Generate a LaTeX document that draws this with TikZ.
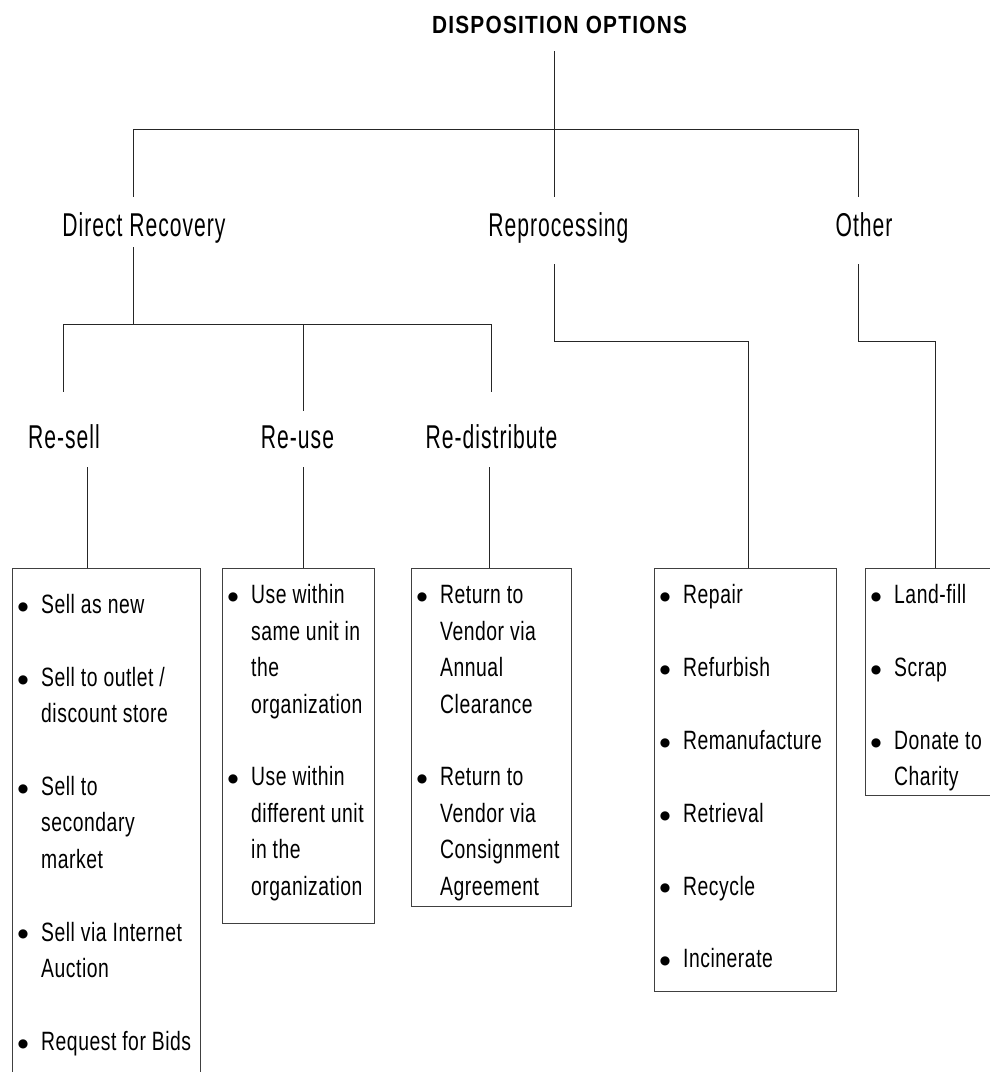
\documentclass[tikz,border=0pt]{standalone}
\usepackage{fontspec}
\setmainfont{Liberation Sans}
\newfontfamily\titlefont[FakeStretch=0.84,LetterSpace=5]{Liberation Sans}
\newfontfamily\labelfont[FakeStretch=0.64,LetterSpace=3]{Liberation Sans}
\newfontfamily\itemfont[FakeStretch=0.73,LetterSpace=2]{Liberation Sans}
\newfontfamily\dotfont{DejaVu Sans}
% bullet and continuation indents for the item lists
\newcommand\bp{\makebox[28pt][l]{\makebox[20pt]{\dotfont\fontsize{12}{12}\selectfont\raisebox{3.2pt}{●}}}}
\newcommand\bc{\hspace*{28pt}}
\begin{document}
\begin{tikzpicture}[x=1pt,y=-1pt,
  conn/.style={draw=black!85,line width=1pt},
  boxnode/.style={draw=black!75,line width=1pt,rectangle,inner sep=0,outer sep=0,anchor=north west},
  titletext/.style={anchor=base,inner sep=0,font=\titlefont\bfseries\fontsize{24.8}{28}\selectfont},
  branch/.style={anchor=base,inner sep=0,font=\labelfont\fontsize{33}{40}\selectfont},
  itemlist/.style={anchor=base west,inner sep=0,font=\itemfont\fontsize{26.5}{36.4}\selectfont}]
\useasboundingbox (0,0) rectangle (990,1072);
\clip (0,0) rectangle (990,1072);

% headings
\node[titletext] (root) at (559.5,33.3) {DISPOSITION OPTIONS};
\node[branch] (direct) at (144,236) {Direct Recovery};
\node[branch] (reproc) at (558.5,236) {Reprocessing};
\node[branch] (other) at (864,236) {Other};
\node[branch] (resell) at (64,448.3) {Re-sell};
\node[branch] (reuse) at (297.5,448.3) {Re-use};
\node[branch] (redist) at (491.5,448.3) {Re-distribute};

% boxes
\node[boxnode,minimum width=188,minimum height=540] (sellbox) at (12,568) {};
\node[boxnode,minimum width=152,minimum height=355] (usebox) at (222,568) {};
\node[boxnode,minimum width=160,minimum height=338] (distbox) at (411,568) {};
\node[boxnode,minimum width=182,minimum height=423] (procbox) at (654,568) {};
\node[boxnode,minimum width=140,minimum height=227] (otherbox) at (865,568) {};

% item lists
\node[itemlist] (sellitems) at (13,613.5) {\begin{tabular}[t]{@{}l@{}}
\bp Sell as new\\
\\
\bp Sell to outlet /\\
\bc discount store\\
\\
\bp Sell to\\
\bc secondary\\
\bc market\\
\\
\bp Sell via Internet\\
\bc Auction\\
\\
\bp Request for Bids
\end{tabular}};
\node[itemlist] (useitems) at (223,603.8) {\begin{tabular}[t]{@{}l@{}}
\bp Use within\\
\bc same unit in\\
\bc the\\
\bc organization\\
\\
\bp Use within\\
\bc different unit\\
\bc in the\\
\bc organization
\end{tabular}};
\node[itemlist] (distitems) at (412,603.8) {\begin{tabular}[t]{@{}l@{}}
\bp Return to\\
\bc Vendor via\\
\bc Annual\\
\bc Clearance\\
\\
\bp Return to\\
\bc Vendor via\\
\bc Consignment\\
\bc Agreement
\end{tabular}};
\node[itemlist] (procitems) at (655,603.8) {\begin{tabular}[t]{@{}l@{}}
\bp Repair\\
\\
\bp Refurbish\\
\\
\bp Remanufacture\\
\\
\bp Retrieval\\
\\
\bp Recycle\\
\\
\bp Incinerate
\end{tabular}};
\node[itemlist] (otheritems) at (866,603.8) {\begin{tabular}[t]{@{}l@{}}
\bp Land-fill\\
\\
\bp Scrap\\
\\
\bp Donate to\\
\bc Charity
\end{tabular}};

% junction points of the tree
\coordinate (rootfoot) at (554,51);
\coordinate (bar1L) at (133,129);
\coordinate (bar1M) at (554,129);
\coordinate (bar1R) at (858,129);
\coordinate (directtop) at (133,197);
\coordinate (reproctop) at (554,197);
\coordinate (othertop) at (858,197);
\coordinate (directfoot) at (133,247);
\coordinate (bar2M) at (133,324);
\coordinate (bar2L) at (63,324);
\coordinate (bar2C) at (303,324);
\coordinate (bar2R) at (491,324);
\coordinate (reselltop) at (63,392);
\coordinate (reusetop) at (303,411);
\coordinate (redisttop) at (491,392);
\coordinate (resellfoot) at (87,467);
\coordinate (reusefoot) at (303,467);
\coordinate (redistfoot) at (489,467);
\coordinate (reprocfoot) at (554,264);
\coordinate (reprocbend) at (554,341);
\coordinate (procin) at (748,341);
\coordinate (otherfoot) at (858,264);
\coordinate (otherbend) at (858,341);
\coordinate (otherin) at (935,341);

% connectors
\draw[conn] (rootfoot) -- (bar1M);
\draw[conn] (bar1L) -- (bar1R);
\draw[conn] (bar1L) -- (directtop);
\draw[conn] (bar1M) -- (reproctop);
\draw[conn] (bar1R) -- (othertop);
\draw[conn] (directfoot) -- (bar2M);
\draw[conn] (bar2L) -- (bar2R);
\draw[conn] (bar2L) -- (reselltop);
\draw[conn] (bar2C) -- (reusetop);
\draw[conn] (bar2R) -- (redisttop);
\draw[conn] (resellfoot) -- (resellfoot |- sellbox.north);
\draw[conn] (reusefoot) -- (reusefoot |- usebox.north);
\draw[conn] (redistfoot) -- (redistfoot |- distbox.north);
\draw[conn] (reprocfoot) -- (reprocbend) -- (procin) -- (procin |- procbox.north);
\draw[conn] (otherfoot) -- (otherbend) -- (otherin) -- (otherin |- otherbox.north);
\end{tikzpicture}
\end{document}
